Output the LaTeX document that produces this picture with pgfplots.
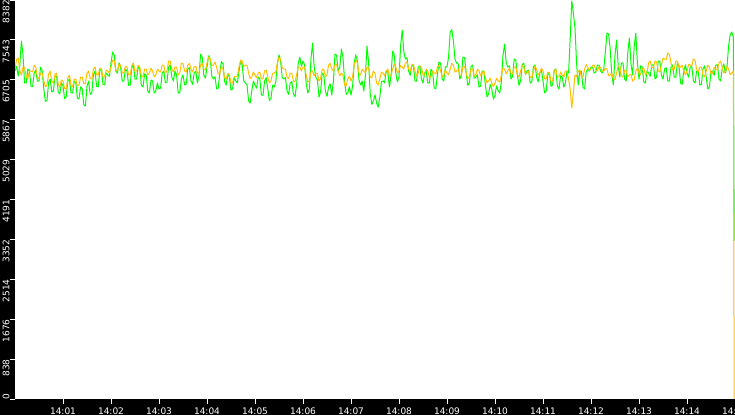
\documentclass[border=0pt]{standalone}
\usepackage{fontspec}
\setmainfont{DejaVu Sans}
\usepackage{pgfplots}
\usepackage{pgfplotstable}
\pgfplotsset{compat=1.18}
\definecolor{gline}{RGB}{0,255,0}
\definecolor{oline}{RGB}{255,192,0}

\pgfplotstableread{
t g o
0 6890 6932
2 6990 7130
4 6785 7163
6 7000 6900
8 7520 6806
10 7230 6970
12 6638 6974
14 6640 6770
16 6932 6722
18 6900 6890
20 6575 6890
22 6560 6870
24 6848 7016
26 6910 6970
28 6680 6764
30 6680 6730
32 6974 6848
34 6890 6840
36 6512 6680
38 6250 6560
40 6281 6596
42 6650 6820
44 6722 6890
46 6450 6680
48 6470 6638
50 6780 6820
52 6785 6848
54 6450 6620
56 6407 6554
58 6640 6700
60 6575 6680
62 6310 6520
64 6344 6512
66 6680 6740
68 6722 6806
70 6430 6600
72 6428 6554
74 6680 6720
76 6638 6722
78 6320 6580
80 6302 6596
82 6560 6760
84 6512 6764
86 6180 6620
88 6155 6638
90 6570 6840
92 6680 6890
94 6400 6730
96 6428 6722
98 6810 6930
100 6890 6974
102 6570 6810
104 6554 6806
106 6890 6950
108 6932 6932
110 6610 6770
112 6596 6764
114 6850 6910
116 6806 6890
118 6780 6850
120 7058 6974
122 7290 7120
124 7226 7100
126 6890 6910
128 6848 6890
130 7060 7030
132 6974 7016
134 6680 6850
136 6680 6848
138 6930 6990
140 6890 6974
142 6590 6810
144 6596 6806
146 6960 7010
148 7016 7058
150 6720 6890
152 6722 6890
154 6980 7010
156 6932 6974
158 6590 6790
160 6554 6764
162 6830 6930
164 6806 6932
166 6470 6810
168 6428 6848
170 6700 6950
172 6680 6890
174 6430 6770
176 6470 6806
178 6640 6930
180 6512 6890
182 6530 6870
184 6848 7016
186 6890 7010
188 6638 6848
190 6660 6890
192 6974 7100
194 7020 7100
196 6764 6932
198 6680 6870
200 6890 6974
202 6810 6970
204 6428 6806
206 6430 6850
208 6722 7058
210 6810 7050
212 6596 6890
214 6610 6870
216 6932 7016
218 6960 7050
220 6680 6932
222 6610 6870
224 6848 6974
226 6890 6990
228 6638 6848
230 6790 6850
232 7247 7016
234 7180 7050
236 6806 6932
238 6740 6910
240 6974 7058
242 7210 7180
244 7142 7142
246 6780 7000
248 6722 7016
250 6770 7080
252 6512 6974
254 6530 6830
256 6848 6848
258 7090 6970
260 7037 6932
262 6670 6750
264 6596 6722
266 6830 6840
268 6764 6806
270 6490 6640
272 6512 6638
274 6750 6780
276 6680 6764
278 6640 6790
280 6890 6974
282 7100 7120
284 7016 7100
286 6680 6980
288 6638 7016
290 6600 7010
292 6260 6848
294 6220 6730
296 6470 6764
298 6680 6870
300 6596 6806
302 6530 6750
304 6764 6848
306 6730 6870
308 6386 6722
310 6380 6730
312 6680 6890
314 6750 6910
316 6512 6764
318 6270 6640
320 6323 6680
322 6590 6840
324 6554 6848
326 6660 6870
328 7058 7058
330 7230 7180
332 7100 7142
334 6760 6960
336 6722 6932
338 6750 6930
340 6470 6764
342 6400 6730
344 6638 6848
346 6670 6840
348 6407 6680
350 6350 6660
352 6596 6806
354 7040 6970
356 7184 6974
358 6990 6890
360 7100 6974
362 7020 6970
364 6638 6806
366 6430 6660
368 6512 6680
370 7150 6870
372 7478 6890
374 6970 6790
376 6764 6848
378 6700 6840
380 6344 6680
382 6450 6730
384 6848 6932
386 6810 6930
388 6470 6764
390 6360 6810
392 6554 7016
394 6620 7050
396 6386 6932
398 6670 6890
400 7247 7016
402 7220 7030
404 6890 6890
406 6970 6790
408 7352 6848
410 7170 6800
412 6680 6596
414 6400 6580
416 6428 6722
418 6560 6780
420 6386 6680
422 6570 6770
424 7058 7016
426 7230 7120
428 7100 7058
430 6700 6850
432 6596 6806
434 6680 6930
436 6470 6890
438 6790 6850
440 7415 6974
442 7070 6950
444 6428 6764
446 6190 6750
448 6260 6890
450 6390 6840
452 6218 6638
454 6130 6600
456 6344 6722
458 6660 6870
460 6680 6848
462 6640 6790
464 6890 6890
466 6870 6930
468 6554 6806
470 6780 6790
472 7310 6932
474 7230 7030
476 6848 6974
478 6660 6850
480 6764 6890
482 7410 7010
484 7751 6974
486 7300 6940
488 7142 7058
490 7170 7080
492 6890 6932
494 6800 6890
496 7016 7016
498 7000 7030
500 6680 6890
502 6680 6790
504 6974 6848
506 7000 6990
508 6722 6974
510 6640 6810
512 6848 6806
514 6890 6930
516 6638 6890
518 6640 6750
520 6932 6764
522 6880 6890
524 6533 6848
526 6520 6830
528 6806 6974
530 7080 7010
532 7058 6890
534 6720 6770
536 6680 6806
538 6980 6910
540 6974 6848
542 7190 6810
544 7709 6932
546 7760 7050
548 7520 7016
550 7140 6870
552 7058 6890
554 7040 6930
556 6722 6806
558 6800 6810
560 7184 6974
562 7170 6990
564 6848 6848
566 6590 6730
568 6638 6764
570 6980 6930
572 7016 6932
574 6740 6790
576 6764 6806
578 6810 6930
580 6554 6890
582 6570 6790
584 6890 6848
586 6890 6890
588 6596 6764
590 6350 6640
592 6407 6680
594 6610 6740
596 6512 6638
598 6300 6560
600 6386 6638
602 6580 6740
604 6470 6680
606 6430 6660
608 6680 6806
610 7220 6950
612 7457 6932
614 7070 6830
616 6974 6890
618 7000 6950
620 6722 6848
622 6780 6830
624 7142 6974
626 7120 6970
628 6806 6806
630 6590 6770
632 6680 6890
634 7020 7010
636 7058 6974
638 6820 6830
640 6890 6848
642 6910 6890
644 6638 6764
646 6660 6750
648 6974 6890
650 7020 6990
652 6764 6932
654 6660 6810
656 6848 6848
658 6910 6950
660 6680 6890
662 6430 6730
664 6470 6722
666 6810 6870
668 6848 6848
670 6570 6680
672 6596 6680
674 6910 6890
676 6932 6932
678 6570 6770
680 6512 6764
682 6790 6870
684 6764 6806
686 6550 6770
688 6638 6890
690 6890 6890
692 6848 6722
694 7580 6500
696 8360 6113
698 8100 6450
700 7793 6806
702 7050 6770
704 6596 6890
706 6890 6910
708 6890 6764
710 6550 6770
712 6512 6932
714 6870 7030
716 6932 6974
718 6890 6910
720 6974 6932
722 6970 7010
724 6848 7016
726 6870 6910
728 7016 6890
730 7010 6970
732 6890 6974
734 6850 6890
736 6932 6890
738 7310 6950
740 7688 6932
742 7670 6790
744 7352 6806
746 6820 6840
748 6596 6722
750 7220 6710
752 7541 6848
754 7000 6990
756 6764 6974
758 7060 6790
760 7058 6764
762 6720 6910
764 6680 6890
766 7280 6770
768 7583 6806
770 7040 6820
772 6806 6680
774 7400 6710
776 7688 6890
778 7060 6950
780 6722 6848
782 7000 6810
784 6974 6932
786 6660 6950
788 6638 6806
790 6890 6850
792 6848 7058
794 6780 7100
796 7016 6974
798 7020 6960
800 6722 7100
802 6760 7080
804 7100 6890
806 7100 6870
808 6806 7016
810 6720 7160
812 6932 7142
814 6960 7130
816 6680 7268
818 6680 7240
820 6974 7058
822 7020 6910
824 6764 6932
826 6760 7100
828 7058 7100
830 7000 6960
832 6638 6974
834 6610 7010
836 6890 6890
838 7020 6810
840 6848 6890
842 6760 7030
844 6974 7016
846 6980 7000
848 6680 7142
850 6640 7120
852 6890 6932
854 6890 6870
856 6596 6974
858 6610 6970
860 6932 6806
862 7000 6770
864 6764 6890
866 6510 7010
868 6554 6974
870 6870 6830
872 6890 6848
874 6800 6970
876 7016 6932
878 7020 6910
880 6722 7058
882 6680 7100
884 6932 6974
886 7040 6850
888 6848 6890
890 6980 6990
892 7415 6932
894 7660 6810
896 7709 6848
898 7600 6890
899 3320 0
}\data

\begin{document}
\begin{tikzpicture}[x=1pt,y=1pt]
\fill[black] (0,0) rectangle (735,415);
\begin{axis}[
  at={(15pt,16pt)}, anchor=south west,
  scale only axis, width=720pt, height=399pt,
  xmin=0, xmax=900, ymin=0, ymax=8382,
  axis background/.style={fill=white},
  axis line style={draw=none},
  tick align=outside, tick pos=left,
  major tick length=5pt,
  tick style={white, line width=1pt},
  xtick={60,120,180,240,300,360,420,480,540,600,660,720,780,840,900},
  xticklabels={14:01,14:02,14:03,14:04,14:05,14:06,14:07,14:08,14:09,14:10,14:11,14:12,14:13,14:14,14:15},
  ytick={0,838,1676,2514,3352,4191,5029,5867,6705,7543,8382},
  yticklabels={\makebox[0pt][l]{0},838,1676,2514,3352,4191,5029,5867,6705,7543,8382},
  ticklabel style={white, font=\fontsize{9}{10}\selectfont, inner sep=0pt},
  yticklabel style={xshift=-4pt, rotate=90, anchor=east},
  xticklabel style={anchor=north, yshift=-3.4pt},
]
\addplot[gline, line width=1pt, line join=round] table[x=t, y=g] {\data};
\addplot[oline, line width=1pt, line join=round] table[x=t, y=o] {\data};
\end{axis}
\pgfresetboundingbox
\useasboundingbox (0,0) rectangle (735,415);
\end{tikzpicture}
\end{document}
